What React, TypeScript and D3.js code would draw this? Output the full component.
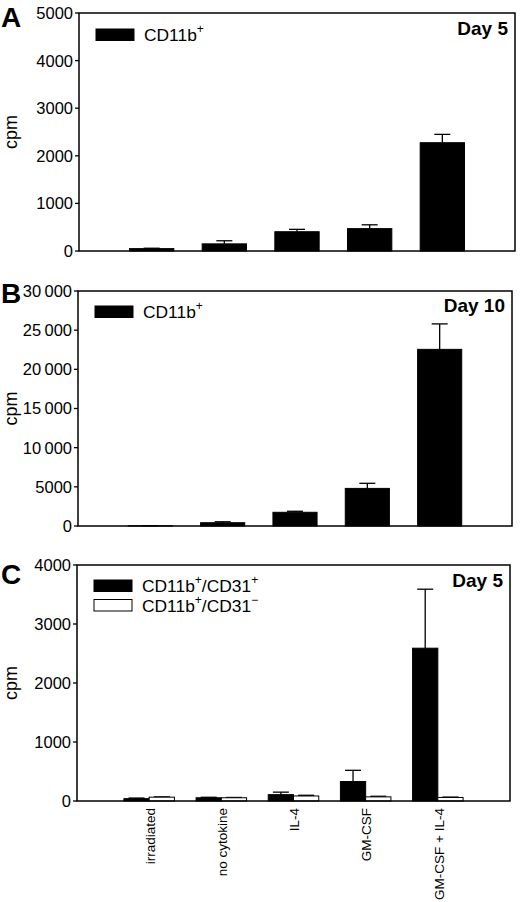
import React from "react";
import * as d3 from "d3";

const categories = ["irradiated", "no cytokine", "IL-4", "GM-CSF", "GM-CSF + IL-4"];
const day5Mean = [50, 150, 405, 470, 2275];
const day5Err = [8, 65, 50, 80, 175];
const day10Mean = [30, 420, 1750, 4800, 22550];
const day10Err = [10, 120, 130, 650, 3250];
const cd31PosMean = [40, 55, 108, 330, 2590];
const cd31PosErr = [10, 8, 42, 190, 1000];
const cd31NegMean = [65, 55, 85, 70, 60];
const cd31NegErr = [5, 5, 12, 10, 6];
const ticksA = [0, 1000, 2000, 3000, 4000, 5000];
const ticksB = [0, 5000, 10000, 15000, 20000, 25000, 30000];
const ticksC = [0, 1000, 2000, 3000, 4000];

const FONT = "'Liberation Sans', Arial, Helvetica, sans-serif";

type Series = { mean: number[]; err: number[]; fill: string };
type LegendItem = { main: string; sup1: string; tail?: string; sup2?: string; fill: string };

type PanelProps = {
  box: { left: number; right: number; top: number; bottom: number };
  yMax: number;
  ticks: number[];
  fmt: (v: number) => string;
  series: Series[];
  groupWidth: number;
  letter: string;
  letterY: number;
  day: string;
  dayY: number;
  legend: LegendItem[];
  legendY: number;
  legendGap: number;
  showCats?: boolean;
};

function Panel(p: PanelProps) {
  const { box } = p;
  const x = d3.scaleLinear().domain([0, 6]).range([box.left, box.right]);
  const y = d3.scaleLinear().domain([0, p.yMax]).range([box.bottom, box.top]);
  const unit = x(1) - x(0);
  const gw = p.groupWidth * unit;
  const bw = gw / p.series.length;
  const cy = (box.top + box.bottom) / 2;
  return (
    <g fontFamily={FONT}>
      {p.series.map((s, si) =>
        s.mean.map((m, i) => {
          const x0 = x(i + 1) - gw / 2 + si * bw;
          const top = y(m);
          const et = y(m + s.err[i]);
          return (
            <g key={`${si}-${i}`}>
              <line x1={x0 + bw / 2} x2={x0 + bw / 2} y1={top} y2={et} stroke="#000" strokeWidth={1.3} />
              <line x1={x0 + bw / 2 - 8} x2={x0 + bw / 2 + 8} y1={et} y2={et} stroke="#000" strokeWidth={1.3} />
              <rect
                x={x0}
                y={top}
                width={bw}
                height={box.bottom - top}
                fill={s.fill}
                stroke="#000"
                strokeWidth={1}
              />
            </g>
          );
        })
      )}
      <rect
        x={box.left}
        y={box.top}
        width={box.right - box.left}
        height={box.bottom - box.top}
        fill="none"
        stroke="#000"
        strokeWidth={1.5}
      />
      {p.ticks.map((t) => (
        <g key={t}>
          <line x1={box.left - 4} x2={box.left} y1={y(t)} y2={y(t)} stroke="#000" strokeWidth={1.3} />
          <text x={box.left - 6} y={y(t)} dy="0.36em" textAnchor="end" fontSize={16.5}>
            {p.fmt(t)}
          </text>
        </g>
      ))}
      <text
        transform={`translate(17,${cy}) rotate(-90)`}
        textAnchor="middle"
        fontSize={18}
      >
        cpm
      </text>
      <text x={1} y={p.letterY} fontSize={28} fontWeight="bold">
        {p.letter}
      </text>
      <text x={box.right - 7} y={p.dayY} textAnchor="end" fontSize={19} fontWeight="bold">
        {p.day}
      </text>
      {p.legend.map((l, li) => {
        const ly = p.legendY + li * p.legendGap;
        return (
          <g key={li}>
            <rect x={box.left + 17} y={ly - 12} width={38} height={11.5} fill={l.fill} stroke="#000" strokeWidth={1} />
            <text x={box.left + 65} y={ly} fontSize={17.4}>
              {l.main}
              <tspan dy={-8} fontSize={12}>
                {l.sup1}
              </tspan>
              {l.tail ? (
                <>
                  <tspan dy={8} fontSize={17.4}>
                    {l.tail}
                  </tspan>
                  <tspan dy={-8} fontSize={12}>
                    {l.sup2}
                  </tspan>
                </>
              ) : null}
            </text>
          </g>
        );
      })}
      {p.showCats
        ? categories.map((c, i) => (
            <text
              key={c}
              transform={`translate(${x(i + 1) + 1},${box.bottom + 7}) rotate(-90)`}
              dy="0.35em"
              textAnchor="end"
              fontSize={13.5}
            >
              {c}
            </text>
          ))
        : null}
    </g>
  );
}

const fmtPlain = (v: number) => String(v);
const fmtSpace = (v: number) => (v >= 10000 ? d3.format(",")(v).replace(",", "\u2009") : String(v));

export default function App() {
  return (
    <svg
      width={520}
      height={902}
      style={{ position: "absolute", left: 0, top: 0, background: "#fff" }}
    >
      <rect width={520} height={902} fill="#fff" />
      <Panel
        box={{ left: 79, right: 515, top: 13, bottom: 251 }}
        yMax={5000}
        ticks={ticksA}
        fmt={fmtPlain}
        series={[{ mean: day5Mean, err: day5Err, fill: "#000" }]}
        groupWidth={0.61}
        letter="A"
        letterY={27}
        day="Day 5"
        dayY={35}
        legend={[{ main: "CD11b", sup1: "+", fill: "#000" }]}
        legendY={41}
        legendGap={0}
      />
      <Panel
        box={{ left: 78, right: 512, top: 291, bottom: 526 }}
        yMax={30000}
        ticks={ticksB}
        fmt={fmtSpace}
        series={[{ mean: day10Mean, err: day10Err, fill: "#000" }]}
        groupWidth={0.61}
        letter="B"
        letterY={303}
        day="Day 10"
        dayY={312}
        legend={[{ main: "CD11b", sup1: "+", fill: "#000" }]}
        legendY={318}
        legendGap={0}
      />
      <Panel
        box={{ left: 77, right: 510, top: 565, bottom: 801 }}
        yMax={4000}
        ticks={ticksC}
        fmt={fmtPlain}
        series={[
          { mean: cd31PosMean, err: cd31PosErr, fill: "#000" },
          { mean: cd31NegMean, err: cd31NegErr, fill: "#fff" },
        ]}
        groupWidth={0.7}
        letter="C"
        letterY={584}
        day="Day 5"
        dayY={587}
        legend={[
          { main: "CD11b", sup1: "+", tail: "/CD31", sup2: "+", fill: "#000" },
          { main: "CD11b", sup1: "+", tail: "/CD31", sup2: "\u2212", fill: "#fff" },
        ]}
        legendY={592}
        legendGap={19.5}
        showCats
      />
    </svg>
  );
}
